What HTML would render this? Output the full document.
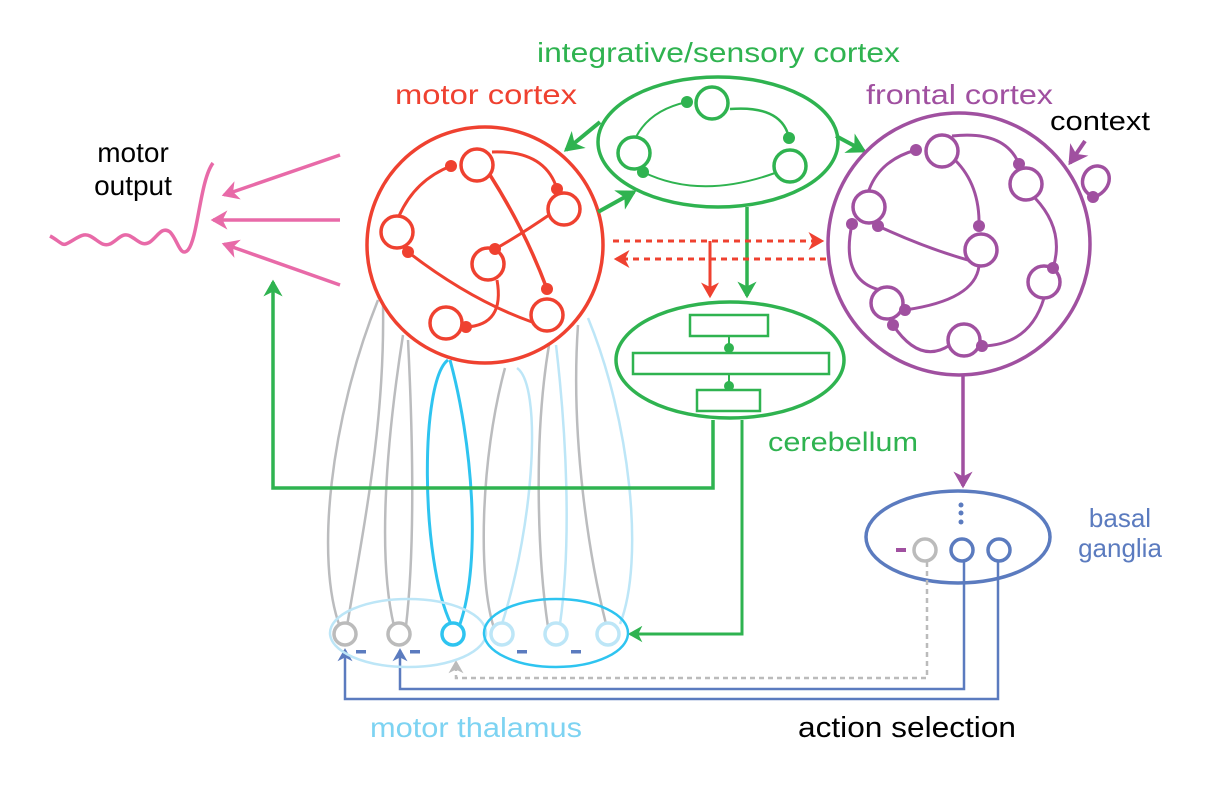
<!DOCTYPE html>
<html><head><meta charset="utf-8"><style>
html,body{margin:0;padding:0;background:#fff;}
svg{display:block;}
text{font-family:"Liberation Sans",sans-serif;}
</style></head><body>
<svg width="1217" height="785" viewBox="0 0 1217 785" xmlns="http://www.w3.org/2000/svg">
<defs>
<marker id="ag" viewBox="0 0 8 8" markerWidth="5.5" markerHeight="5.5" refX="6" refY="4" orient="auto" markerUnits="strokeWidth"><path d="M0,0 L7,4 L0,8 L2,4z" fill="#2fb350"/></marker>
<marker id="ar" viewBox="0 0 8 8" markerWidth="6" markerHeight="6" refX="6" refY="4" orient="auto" markerUnits="strokeWidth"><path d="M0,0 L7,4 L0,8 L2,4z" fill="#ef4130"/></marker>
<marker id="ap" viewBox="0 0 8 8" markerWidth="5.5" markerHeight="5.5" refX="6" refY="4" orient="auto" markerUnits="strokeWidth"><path d="M0,0 L7,4 L0,8 L2,4z" fill="#e86aa8"/></marker>
<marker id="au" viewBox="0 0 8 8" markerWidth="5.5" markerHeight="5.5" refX="6" refY="4" orient="auto" markerUnits="strokeWidth"><path d="M0,0 L7,4 L0,8 L2,4z" fill="#a050a0"/></marker>
<marker id="ab" viewBox="0 0 8 8" markerWidth="6" markerHeight="6" refX="6" refY="4" orient="auto" markerUnits="strokeWidth"><path d="M0,0 L7,4 L0,8 L2,4z" fill="#5b7bbf"/></marker>
<marker id="ay" viewBox="0 0 8 8" markerWidth="6" markerHeight="6" refX="6" refY="4" orient="auto" markerUnits="strokeWidth"><path d="M0,0 L7,4 L0,8 L2,4z" fill="#bbb"/></marker>
</defs>

<!-- labels -->
<text x="537" y="62" font-size="28" fill="#2fb350" textLength="363" lengthAdjust="spacingAndGlyphs">integrative/sensory cortex</text>
<text x="395" y="104" font-size="28" fill="#ef4130" textLength="182" lengthAdjust="spacingAndGlyphs">motor cortex</text>
<text x="866" y="104" font-size="28" fill="#a050a0" textLength="187" lengthAdjust="spacingAndGlyphs">frontal cortex</text>
<text x="1050" y="130" font-size="27" fill="#000" textLength="100" lengthAdjust="spacingAndGlyphs">context</text>
<text x="133" y="162" font-size="28" fill="#000" text-anchor="middle">motor</text>
<text x="133" y="195" font-size="28" fill="#000" text-anchor="middle">output</text>
<text x="768" y="451" font-size="27" fill="#2fb350" textLength="150" lengthAdjust="spacingAndGlyphs">cerebellum</text>
<text x="1120" y="527" font-size="26" fill="#5b7bbf" text-anchor="middle">basal</text>
<text x="1120" y="557" font-size="26" fill="#5b7bbf" text-anchor="middle">ganglia</text>
<text x="370" y="737" font-size="28" fill="#7dd3f2" textLength="212" lengthAdjust="spacingAndGlyphs">motor thalamus</text>
<text x="798" y="737" font-size="29" fill="#000" textLength="218" lengthAdjust="spacingAndGlyphs">action selection</text>

<!-- loops motor cortex to thalamus -->
<g fill="none" stroke-width="2.5">
<path d="M378,300 C330,420 315,560 340,627" stroke="#bbbcbe"/>
<path d="M347,626 C365,520 385,420 383,305" stroke="#bbbcbe"/>
<path d="M403,335 C385,450 378,560 394,626" stroke="#bbbcbe"/>
<path d="M406,626 C416,540 412,420 408,340" stroke="#bbbcbe"/>
<path d="M448,360 C420,380 420,560 451,624" stroke="#2ec4f0" stroke-width="3"/>
<path d="M460,624 C482,560 472,440 450,360" stroke="#2ec4f0" stroke-width="3"/>
<path d="M505,368 C480,460 478,580 494,628" stroke="#bbbcbe"/>
<path d="M517,368 C542,385 535,520 502,624" stroke="#bde6f7"/>
<path d="M549,345 C533,440 538,560 548,627" stroke="#bbbcbe"/>
<path d="M556,345 C566,430 572,540 560,624" stroke="#bde6f7"/>
<path d="M578,325 C570,440 590,560 606,624" stroke="#bbbcbe"/>
<path d="M588,318 C630,420 645,560 620,624" stroke="#bde6f7"/>
</g>

<!-- green cerebellum outputs -->
<path d="M713,420 V488 H273 V282" fill="none" stroke="#2fb350" stroke-width="3.5" marker-end="url(#ag)"/>
<path d="M742,420 V634 H630" fill="none" stroke="#2fb350" stroke-width="3" marker-end="url(#ag)"/>

<!-- motor cortex -->
<g stroke="#ef4130" fill="none">
<circle cx="485" cy="245" r="118" stroke-width="3.5" fill="#fff"/>
<g stroke-width="3">
<path d="M399,216 Q415,180 451,166"/>
<path d="M492,152 Q545,150 557,189"/>
<path d="M490,175 Q525,230 547,289" stroke-width="3.5"/>
<path d="M552,213 Q520,235 495,249"/>
<path d="M408,252 Q470,300 532,322"/>
<path d="M497,280 Q505,325 466,327"/>
</g>
<g stroke-width="3.5" fill="#fff">
<circle cx="477" cy="165" r="16"/><circle cx="564" cy="209" r="16"/><circle cx="397" cy="232" r="16"/>
<circle cx="488" cy="264" r="16"/><circle cx="547" cy="315" r="16"/><circle cx="446" cy="323" r="16"/>
</g>
</g>
<g fill="#ef4130"><circle cx="451" cy="166" r="6"/><circle cx="557" cy="189" r="6"/><circle cx="408" cy="252" r="6"/><circle cx="495" cy="249" r="6"/><circle cx="547" cy="289" r="6"/><circle cx="466" cy="327" r="6"/></g>

<!-- integrative cortex -->
<g stroke="#2fb350" fill="none">
<ellipse cx="718" cy="142" rx="120" ry="65" stroke-width="3.5"/>
<path d="M636,137 Q650,110 687,102" stroke-width="2"/>
<path d="M730,109 Q782,105 789,138" stroke-width="2.5"/>
<path d="M643,172 Q700,200 775,173" stroke-width="2"/>
<g stroke-width="3.5" fill="#fff"><circle cx="712" cy="103" r="16"/><circle cx="634" cy="153" r="16"/><circle cx="790" cy="166" r="16"/></g>
</g>
<g fill="#2fb350"><circle cx="687" cy="102" r="6"/><circle cx="789" cy="138" r="6"/><circle cx="643" cy="172" r="6"/></g>
<g stroke="#2fb350" stroke-width="4" fill="none">
<path d="M600,122 L566,150" marker-end="url(#ag)"/>
<path d="M598,212 L634,192" marker-end="url(#ag)"/>
<path d="M836,136 L864,151" marker-end="url(#ag)"/>
<path d="M747,207 V296" stroke-width="3.5" marker-end="url(#ag)"/>
</g>

<!-- red dashed -->
<g stroke="#ef4130" stroke-width="3" fill="none">
<path d="M613,241 H822" stroke-dasharray="6,5" marker-end="url(#ar)"/>
<path d="M826,259 H616" stroke-dasharray="6,5" marker-end="url(#ar)"/>
<path d="M710,241 V296" marker-end="url(#ar)"/>
</g>

<!-- cerebellum -->
<g stroke="#2fb350" fill="none" stroke-width="3">
<ellipse cx="730" cy="360" rx="114" ry="58" stroke-width="3.5"/>
<rect x="690" y="315" width="78" height="21" stroke-width="2.5"/>
<rect x="633" y="353" width="196" height="21" stroke-width="2.5"/>
<rect x="697" y="390" width="63" height="21" stroke-width="2.5"/>
<path d="M729,336 V353 M729,374 V390" stroke-width="2"/>
</g>
<g fill="#2fb350"><circle cx="729" cy="348" r="5"/><circle cx="729" cy="386" r="5"/></g>

<!-- frontal cortex -->
<g stroke="#a050a0" fill="none">
<circle cx="959" cy="244" r="131" stroke-width="3.5"/>
<g stroke-width="3">
<path d="M869,190 Q880,160 916,150"/>
<path d="M952,136 Q1005,130 1019,164"/>
<path d="M955,160 Q980,185 979,226"/>
<path d="M878,226 Q930,250 975,262"/>
<path d="M852,224 Q840,280 880,290"/>
<path d="M979,266 Q975,300 905,310"/>
<path d="M1035,198 Q1065,230 1053,268"/>
<path d="M893,325 Q920,365 950,345"/>
<path d="M1044,298 Q1030,345 982,346"/>
</g>
<g stroke-width="3.5" fill="#fff">
<circle cx="942" cy="151" r="16"/><circle cx="1026" cy="184" r="16"/><circle cx="869" cy="207" r="16"/>
<circle cx="981" cy="250" r="16"/><circle cx="1044" cy="282" r="16"/><circle cx="887" cy="303" r="16"/>
<circle cx="964" cy="340" r="16"/>
</g>
<path d="M1090,195 C1075,185 1085,165 1098,166 C1112,167 1115,188 1095,197" stroke-width="3.5"/>
<path d="M1085,141 L1070,163" stroke-width="4" marker-end="url(#au)"/>
</g>
<g fill="#a050a0"><circle cx="916" cy="150" r="6"/><circle cx="1019" cy="164" r="6"/><circle cx="852" cy="224" r="6"/><circle cx="878" cy="226" r="6"/><circle cx="979" cy="226" r="6"/><circle cx="1053" cy="268" r="6"/><circle cx="905" cy="310" r="6"/><circle cx="893" cy="325" r="6"/><circle cx="982" cy="346" r="6"/><circle cx="1093" cy="197" r="6"/></g>
<path d="M963,375 V486" stroke="#a050a0" stroke-width="3.5" fill="none" marker-end="url(#au)"/>

<!-- basal ganglia -->
<ellipse cx="958" cy="537" rx="92" ry="46" fill="none" stroke="#5b7bbf" stroke-width="3.5"/>
<g fill="#5b7bbf"><circle cx="961" cy="505" r="2.5"/><circle cx="961" cy="513" r="2.5"/><circle cx="961" cy="522" r="2.5"/></g>
<rect x="896" y="548" width="10" height="4" fill="#a050a0"/>
<circle cx="925" cy="550" r="11" fill="none" stroke="#bbb" stroke-width="3.5"/>
<circle cx="962" cy="550" r="11" fill="none" stroke="#5b7bbf" stroke-width="3.5"/>
<circle cx="999" cy="550" r="11" fill="none" stroke="#5b7bbf" stroke-width="3.5"/>
<path d="M927,562 V678 H456 V662" fill="none" stroke="#bbb" stroke-width="2.5" stroke-dasharray="5,4" marker-end="url(#ay)"/>
<path d="M964,562 V689 H400 V650" fill="none" stroke="#5b7bbf" stroke-width="2.5" marker-end="url(#ab)"/>
<path d="M998,562 V699 H345 V650" fill="none" stroke="#5b7bbf" stroke-width="2.5" marker-end="url(#ab)"/>

<!-- thalamus -->
<ellipse cx="408" cy="633" rx="78" ry="34" fill="none" stroke="#bde6f7" stroke-width="2.5"/>
<ellipse cx="556" cy="633" rx="72" ry="34" fill="none" stroke="#2ec4f0" stroke-width="2.5"/>
<g fill="#fff" stroke-width="3.5">
<circle cx="345" cy="634" r="11" stroke="#bbb"/><circle cx="399" cy="634" r="11" stroke="#bbb"/>
<circle cx="453" cy="634" r="11" stroke="#2ec4f0"/>
<circle cx="502" cy="634" r="11" stroke="#bde6f7"/><circle cx="556" cy="634" r="11" stroke="#bde6f7"/><circle cx="608" cy="634" r="11" stroke="#bde6f7"/>
</g>
<g fill="#5b7bbf"><rect x="356" y="650" width="10" height="3.5"/><rect x="410" y="650" width="10" height="3.5"/><rect x="517" y="650" width="10" height="3.5"/><rect x="571" y="650" width="10" height="3.5"/></g>

<!-- motor output -->
<g stroke="#e86aa8" stroke-width="3.5" fill="none">
<path d="M340,155 L224,195" marker-end="url(#ap)"/>
<path d="M340,220 L213,220" marker-end="url(#ap)"/>
<path d="M340,285 L224,244" marker-end="url(#ap)"/>
<path d="M50,236 C58,240 62,246 66,244 C75,240 82,232 90,236 C98,240 102,247 110,244 C118,240 122,232 130,236 C138,240 142,247 150,242 C158,236 162,226 170,232 C178,240 180,258 188,250 C198,238 200,180 213,163"/>
</g>
</svg>
</body></html>
